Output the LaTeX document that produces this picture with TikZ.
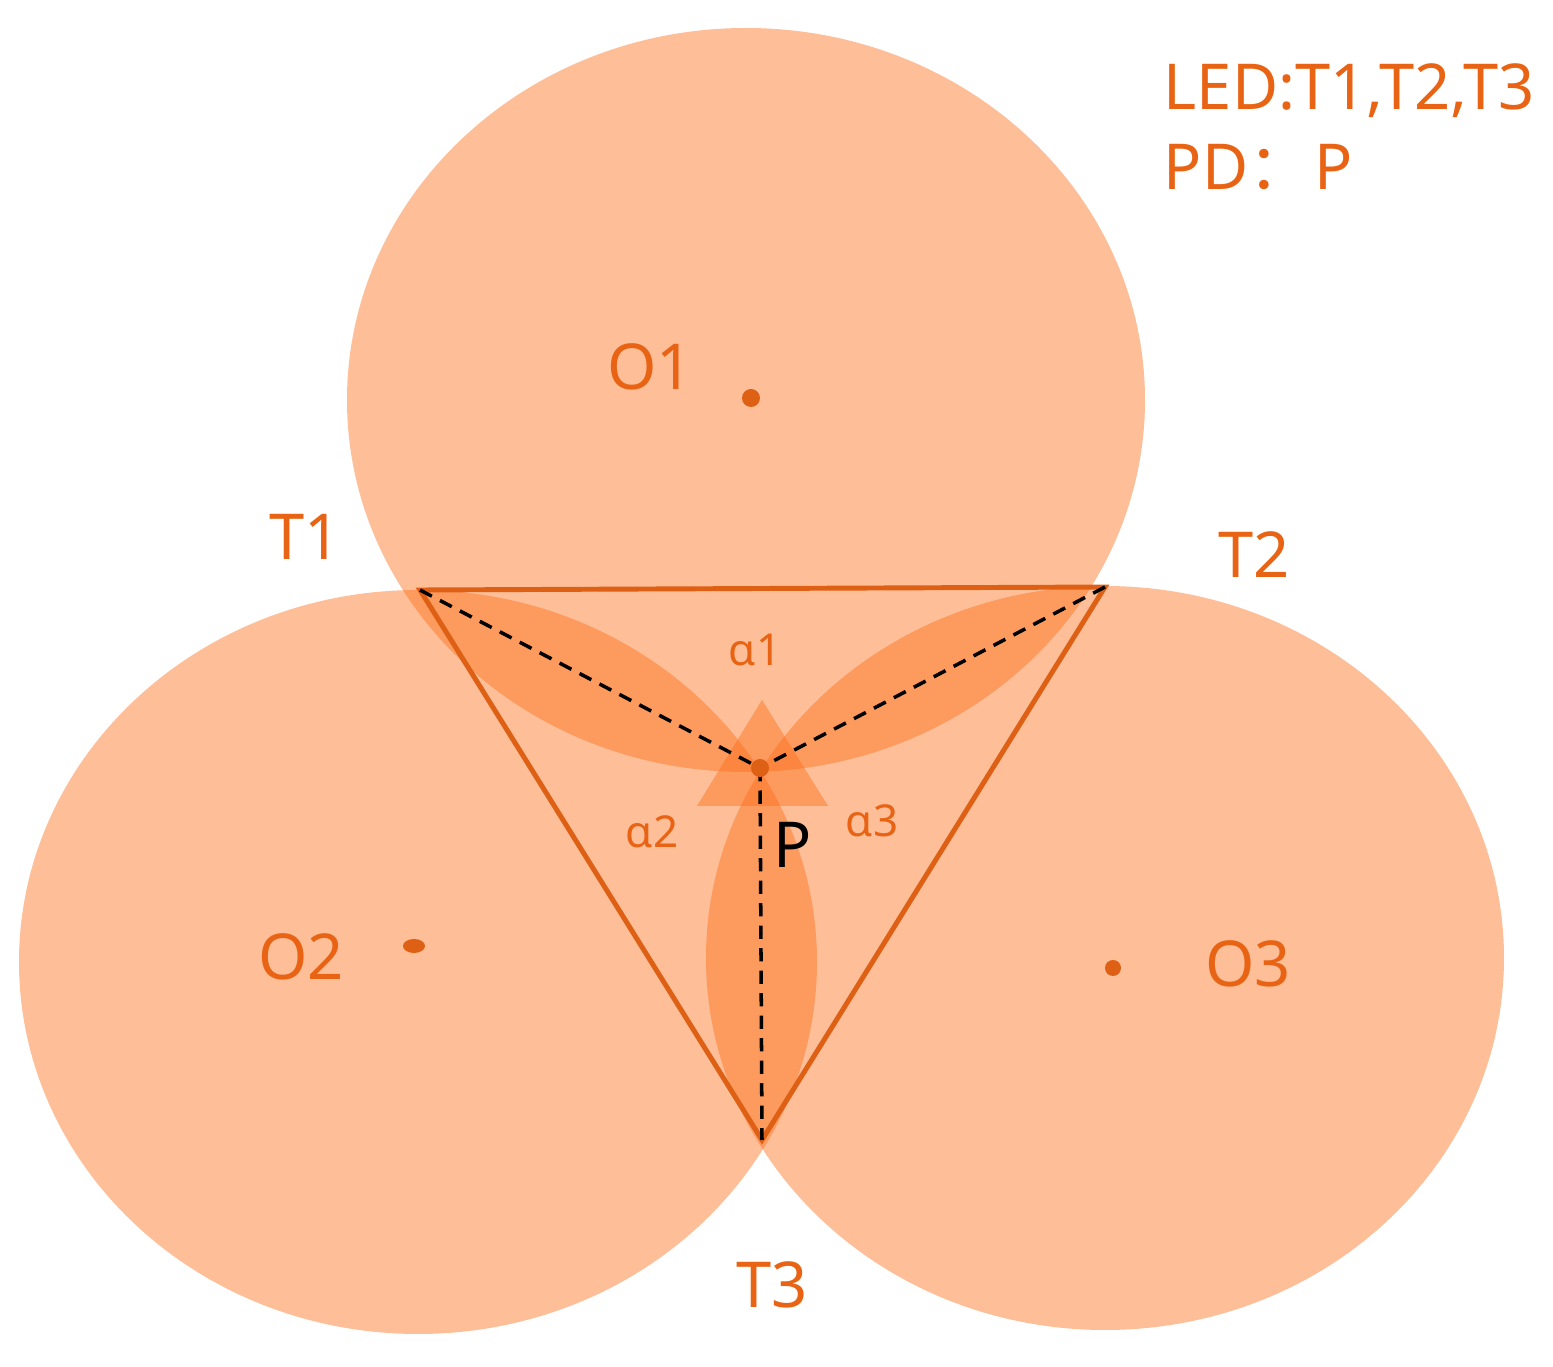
\documentclass[tikz,border=0pt]{standalone}
\usepackage{fontspec}
\setmainfont{Noto Sans}
\newfontfamily\cjkfont{Noto Sans CJK SC}
\definecolor{ledorange}{RGB}{252,110,25}
\definecolor{lineorange}{RGB}{222,96,20}
\definecolor{textorange}{RGB}{232,100,20}

\begin{document}
\begin{tikzpicture}[
  x=0.01cm,
  y=-0.01cm,
  disc/.style={
    fill=ledorange,
    fill opacity=0.45
  },
  edge/.style={
    draw=lineorange,
    line width=1.4pt,
    line join=miter
  },
  ray/.style={
    dash pattern=on 3.8pt off 2.6pt,
    line width=1pt
  },
  dot/.style={fill=lineorange},
  lbl/.style={
    text=textorange,
    font=\fontsize{18}{20}\selectfont,
    anchor=base,
    inner sep=0pt
  },
  ang/.style={
    lbl,
    font=\fontsize{12.5}{14}\selectfont
  }
]
  \useasboundingbox (0,0) rectangle (1553,1367);
  \coordinate (c1) at (746,400);
  \coordinate (c2) at (418,962);
  \coordinate (c3) at (1105,958);
  \coordinate (T1) at (420,590);
  \coordinate (T2) at (1105,587);
  \coordinate (T3) at (762,1140);
  \coordinate (P) at (760,768);
  \coordinate (O1) at (751,398);
  \coordinate (O2) at (414,946);
  \coordinate (O3) at (1113,968);

  \fill[disc] (c1) ellipse [x radius=399, y radius=372];
  \fill[disc] (c2) ellipse [x radius=399, y radius=372];
  \fill[disc] (c3) ellipse [x radius=399, y radius=372];
  \fill[disc] (762,700) -- (828,806) -- (697,806) -- cycle;

  \draw[edge] (T1) -- (T2) -- (T3) -- cycle;
  \draw[ray] (T1) -- (P);
  \draw[ray] (T2) -- (P);
  \draw[ray] (P) -- (T3);

  \fill[dot] (P) circle [radius=9];
  \fill[dot] (O1) circle [radius=9];
  \fill[dot] (O2) ellipse [x radius=11, y radius=7];
  \fill[dot] (O3) circle [radius=8];

  \node[lbl] (o1) at (650,390) {O1};
  \node[lbl] (o2) at (301,980) {O2};
  \node[lbl] (o3) at (1248,987) {O3};
  \node[lbl] (t1) at (305,560) {T1};
  \node[lbl] (t2) at (1254,578) {T2};
  \node[lbl] (t3) at (772,1308) {T3};
  \node[lbl,text=black] (p) at (793,868) {P};
  \node[ang] (a1) at (755,666) {α1};
  \node[ang] (a2) at (652,848) {α2};
  \node[ang] (a3) at (872,837) {α3};
  \node[lbl,anchor=base west] (led) at (1163,110) {LED:T1,T2,T3};
  \node[lbl,anchor=base west] (pd) at (1163,190) {PD{\cjkfont ：}\hspace{0.05em}P};
\end{tikzpicture}
\end{document}
